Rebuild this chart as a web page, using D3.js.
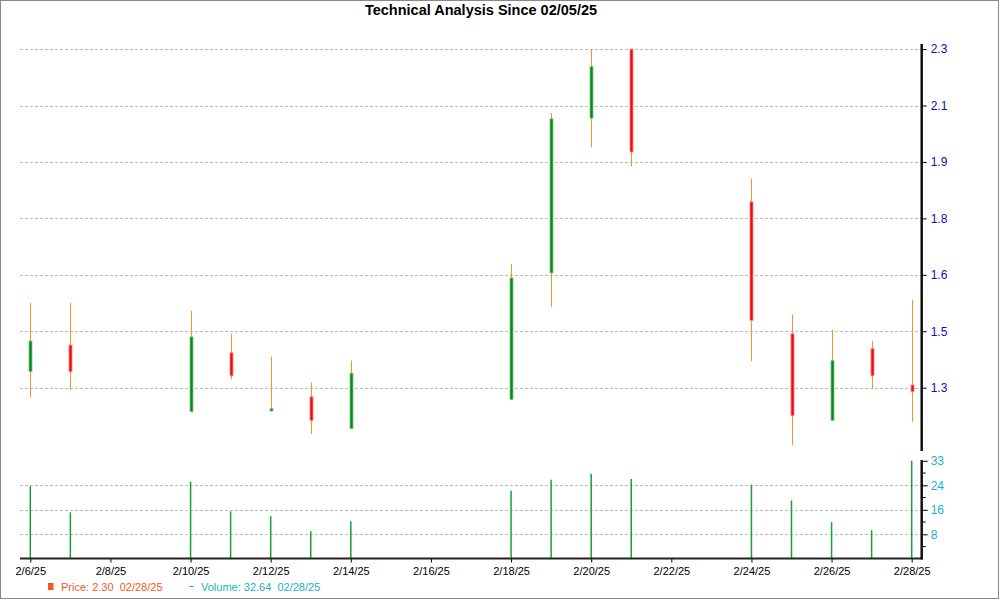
<!DOCTYPE html>
<html>
<head>
<meta charset="utf-8">
<script src="https://cdn.jsdelivr.net/npm/d3@7"></script>
<style>
  html, body { margin: 0; padding: 0; background: #fff; }
  svg { display: block; font-family: "Liberation Sans", Arial, sans-serif; }
</style>
</head>
<body>
<svg id="chart" width="1000" height="600"></svg>
<script>
// ---- data ----
const dates  = ["2025-02-06","2025-02-07","2025-02-10","2025-02-11","2025-02-12","2025-02-13","2025-02-14","2025-02-18","2025-02-19","2025-02-20","2025-02-21","2025-02-24","2025-02-25","2025-02-26","2025-02-27","2025-02-28"];
const open   = [1.347,1.426,1.229,1.403,1.231,1.273,1.179,1.265,1.639,2.096,2.300,1.849,1.459,1.203,1.415,1.308];
const high   = [1.551,1.551,1.527,1.460,1.392,1.315,1.380,1.666,2.111,2.300,2.300,1.917,1.516,1.471,1.439,1.560];
const low    = [1.272,1.293,1.229,1.325,1.230,1.163,1.179,1.265,1.538,2.010,1.954,1.378,1.131,1.203,1.296,1.199];
const close  = [1.438,1.347,1.450,1.335,1.236,1.203,1.343,1.624,2.094,2.249,1.996,1.498,1.217,1.380,1.335,1.288];
const volume = [24.2,15.5,25.7,15.8,14.2,9.2,12.5,22.7,26.3,28.3,26.6,24.7,19.4,12.2,9.5,32.64];

const dateTicks = ["2025-02-06","2025-02-08","2025-02-10","2025-02-12","2025-02-14","2025-02-16","2025-02-18","2025-02-20","2025-02-22","2025-02-24","2025-02-26","2025-02-28"];
const priceTickValues = [1.3, 1.4667, 1.6333, 1.8, 1.9667, 2.1333, 2.3];
const priceTickLabels = ["1.3","1.5","1.6","1.8","1.9","2.1","2.3"];
const volumeTickValues = [8.16, 16.32, 24.48, 32.64];
const volumeTickLabels = ["8","16","24","33"];
const volumeMinorValues = [4.08, 12.24, 20.4, 28.56];

const titleText = "Technical Analysis Since 02/05/25";
const legendPrice = "Price: 2.30  02/28/25";
const legendVolume = "Volume: 32.64  02/28/25";

// ---- setup ----
const svg = d3.select("#chart");
const parse = d3.utcParse("%Y-%m-%d");
const fmt = d3.utcFormat("%-m/%-d/%y");
const rows = dates.map((d, i) => ({date: parse(d), o: open[i], h: high[i], l: low[i], c: close[i], v: volume[i]}));

const axisX = 921.7;
const x = d3.scaleUtc().domain([parse("2025-02-06"), parse("2025-02-28")]).range([30.3, 911.7]);
const y = d3.scaleLinear().domain([1.113, 2.315]).range([451, 44]);
const yv = d3.scaleLinear().domain([0, 32.64]).range([558.8, 460.8]);

// border
svg.append("rect").attr("x", 0.5).attr("y", 0.5).attr("width", 998).attr("height", 598)
  .attr("fill", "#fff").attr("stroke", "#888").attr("stroke-width", 1);

// title
svg.append("text").attr("x", 481).attr("y", 15).attr("text-anchor", "middle")
  .attr("font-size", 14.5).attr("font-weight", "bold").attr("fill", "#000").text(titleText);

// price grid
svg.append("g").selectAll("line").data(priceTickValues).join("line")
  .attr("x1", 20).attr("x2", axisX).attr("y1", d => Math.round(y(d)) + 0.5).attr("y2", d => Math.round(y(d)) + 0.5)
  .attr("stroke", "#bbb").attr("stroke-dasharray", "3,2").attr("stroke-width", 1);

// volume grid
svg.append("g").selectAll("line").data(volumeTickValues.slice(0, 3)).join("line")
  .attr("x1", 20).attr("x2", axisX).attr("y1", d => Math.round(yv(d)) + 0.5).attr("y2", d => Math.round(yv(d)) + 0.5)
  .attr("stroke", "#bbb").attr("stroke-dasharray", "3,2").attr("stroke-width", 1);

// volume bars
svg.append("g").selectAll("line").data(rows).join("line")
  .attr("x1", d => x(d.date)).attr("x2", d => x(d.date))
  .attr("y1", yv(0)).attr("y2", d => yv(d.v))
  .attr("stroke", "#16a03a").attr("stroke-width", 1.5);

// candles
const cg = svg.append("g");
cg.selectAll("line").data(rows).join("line")
  .attr("x1", d => Math.round(x(d.date)) + 0.5).attr("x2", d => Math.round(x(d.date)) + 0.5)
  .attr("y1", d => y(d.h)).attr("y2", d => y(d.l))
  .attr("stroke", "#f0962c").attr("stroke-width", 1);
cg.selectAll("rect").data(rows).join("rect")
  .attr("x", d => Math.round(x(d.date)) - 1)
  .attr("width", 3)
  .attr("y", d => Math.min(y(Math.max(d.o, d.c)), y(Math.min(d.o, d.c)) - 2.5))
  .attr("height", d => Math.max(2.5, y(Math.min(d.o, d.c)) - y(Math.max(d.o, d.c))))
  .attr("fill", d => d.c >= d.o ? "#008a10" : "#ff0000")
  .attr("stroke", d => d.c >= d.o ? "#80c890" : "#ff8f8f")
  .attr("stroke-width", 0.8);

// bottom axis
const xAxis = d3.axisBottom(x).tickValues(dateTicks.map(parse)).tickFormat(fmt).tickSize(4).tickSizeOuter(0);
const gx = svg.append("g").attr("transform", "translate(0,558.5)").call(xAxis);
gx.select(".domain").remove();
gx.selectAll(".tick line").attr("stroke", "#000").attr("stroke-width", 1);
gx.selectAll(".tick text").attr("font-size", 11).attr("fill", "#000").attr("dy", "0.85em")
  .attr("font-family", "Liberation Sans, Arial, sans-serif");
svg.append("line").attr("x1", 20).attr("x2", axisX + 1).attr("y1", 558.5).attr("y2", 558.5)
  .attr("stroke", "#222").attr("stroke-width", 2);

// price axis
const yAxis = d3.axisRight(y).tickValues(priceTickValues)
  .tickFormat((d, i) => priceTickLabels[i]).tickSize(5).tickPadding(4);
const gy = svg.append("g").attr("transform", `translate(${axisX},0)`).call(yAxis);
gy.select(".domain").remove();
gy.selectAll(".tick line").attr("stroke", "#000");
gy.selectAll(".tick text").attr("font-size", 12).attr("fill", "#1010b0")
  .attr("font-family", "Liberation Sans, Arial, sans-serif");
svg.append("line").attr("x1", axisX).attr("x2", axisX).attr("y1", 44).attr("y2", 451)
  .attr("stroke", "#111").attr("stroke-width", 2.5);

// volume axis
const vAxis = d3.axisRight(yv).tickValues(volumeTickValues)
  .tickFormat((d, i) => volumeTickLabels[i]).tickSize(6).tickPadding(3);
const gv = svg.append("g").attr("transform", `translate(${axisX},0)`).call(vAxis);
gv.select(".domain").remove();
gv.selectAll(".tick line").attr("stroke", "#000");
gv.selectAll(".tick text").attr("font-size", 12).attr("fill", "#19b3c4")
  .attr("font-family", "Liberation Sans, Arial, sans-serif");
svg.append("g").selectAll("line").data(volumeMinorValues).join("line")
  .attr("x1", axisX).attr("x2", axisX + 4).attr("y1", d => yv(d)).attr("y2", d => yv(d))
  .attr("stroke", "#000");
svg.append("line").attr("x1", axisX).attr("x2", axisX).attr("y1", 460).attr("y2", 559.5)
  .attr("stroke", "#111").attr("stroke-width", 2.5);

// legend
svg.append("rect").attr("x", 48).attr("y", 583).attr("width", 5.5).attr("height", 7).attr("fill", "#f05a22");
svg.append("text").attr("x", 61).attr("y", 591).attr("font-size", 11).attr("fill", "#f05a22").attr("xml:space", "preserve").text(legendPrice);
svg.append("line").attr("x1", 189).attr("x2", 194).attr("y1", 586.5).attr("y2", 586.5).attr("stroke", "#20b0c0");
svg.append("text").attr("x", 201).attr("y", 591).attr("font-size", 11).attr("fill", "#20b0c0").attr("xml:space", "preserve").text(legendVolume);
</script>
</body>
</html>
